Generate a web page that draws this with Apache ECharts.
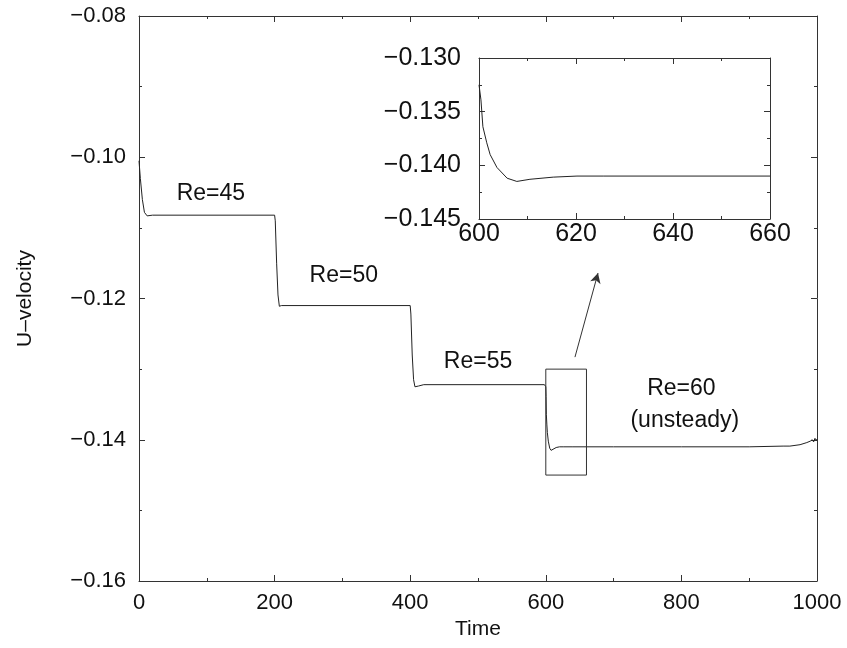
<!DOCTYPE html>
<html>
<head>
<meta charset="utf-8">
<script src="https://cdn.jsdelivr.net/npm/echarts@6/dist/echarts.min.js"></script>
<style>
  html, body { margin: 0; padding: 0; background: #fff; }
  #chart { width: 847px; height: 648px; }
</style>
</head>
<body>
<div id="chart"></div>
<script>
// Time history of the U-velocity while Re is stepped 45 -> 50 -> 55 -> 60
const timeMain = [0, 2, 5, 8, 12, 20, 200, 201, 203, 205, 207, 210, 400, 401, 403, 405, 407, 412, 420, 598,
  600, 600.4, 600.8, 601.6, 602.3, 603.7, 605.8, 607.8, 610.5, 615.3, 620.2, 625.6, 640, 660,
  700, 800, 900, 950, 960, 975, 985, 990, 993, 995, 997, 999, 1000];
const uMain = [-0.1005, -0.1030, -0.1060, -0.1078, -0.1083, -0.1082, -0.1082, -0.1090, -0.1150, -0.1195, -0.1211, -0.1210, -0.1210, -0.1222, -0.1280, -0.1315, -0.1325, -0.1324, -0.1322, -0.1322,
  -0.1325, -0.1339, -0.1364, -0.1379, -0.1390, -0.1402, -0.1412, -0.1415, -0.1413, -0.1411, -0.1410, -0.1410, -0.1410, -0.1410,
  -0.1410, -0.1410, -0.1410, -0.1409, -0.1409, -0.1407, -0.1404, -0.1402, -0.1400, -0.1403, -0.1398, -0.1401, -0.1399];

// Zoomed window after the switch to Re=60
const insetTime = [600, 600.4, 600.8, 601.6, 602.3, 603.7, 605.8, 607.8, 610.5, 615.3, 620.2, 625.6, 640, 660];
const insetU = [-0.1325, -0.1339, -0.1364, -0.1379, -0.1390, -0.1402, -0.1412, -0.1415, -0.1413, -0.1411, -0.1410, -0.1410, -0.1410, -0.1410];

// Outline of the zoomed window on the main plot
const boxTime = [600, 660, 660, 600, 600];
const boxU = [-0.130, -0.130, -0.145, -0.145, -0.130];

// Arrow from the window to the inset
const arrowTime = [643, 677];
const arrowU = [-0.1283, -0.1164];

// Reynolds number annotations
const noteText = ['Re=45', 'Re=50', 'Re=55', 'Re=60', '(unsteady)'];
const noteTime = [106, 302, 500, 800, 805];
const noteU = [-0.1052, -0.1168, -0.1290, -0.1327, -0.1373];

const FONT = 'Liberation Sans, Arial, Helvetica, sans-serif';
const INK = '#222';
const minus = s => s.replace('-', '\u2212');

function axisStyle(extra) {
  return Object.assign({
    type: 'value',
    axisLine: { show: true, onZero: false, lineStyle: { color: '#333', width: 1 } },
    axisTick: { show: true, inside: true, length: 6, lineStyle: { color: '#333', width: 1 } },
    minorTick: { show: true, splitNumber: 2, length: 3, lineStyle: { color: '#333', width: 1 } },
    splitLine: { show: false },
    minorSplitLine: { show: false },
    axisLabel: { show: false }
  }, extra);
}

const zip = (a, b) => a.map((v, i) => [v, b[i]]);

const chart = echarts.init(document.getElementById('chart'), null, { renderer: 'canvas' });

chart.setOption({
  animation: false,
  backgroundColor: '#fff',
  textStyle: { fontFamily: FONT },
  grid: [
    { left: 139, top: 16, width: 678, height: 565, containLabel: false },
    { left: 479, top: 58, width: 291, height: 161, containLabel: false }
  ],
  xAxis: [
    axisStyle({
      gridIndex: 0, position: 'bottom', min: 0, max: 1000, interval: 200,
      axisLabel: { show: true, fontSize: 22, color: '#111', fontFamily: FONT, margin: 11,
        formatter: v => String(v) },
      name: 'Time', nameLocation: 'middle', nameGap: 35,
      nameTextStyle: { fontSize: 21, color: '#111', fontFamily: FONT }
    }),
    axisStyle({ gridIndex: 0, position: 'top', min: 0, max: 1000, interval: 200 }),
    axisStyle({
      gridIndex: 1, position: 'bottom', min: 600, max: 660, interval: 20,
      axisLabel: { show: true, fontSize: 25, color: '#111', fontFamily: FONT, margin: 3,
        formatter: v => String(v) }
    }),
    axisStyle({ gridIndex: 1, position: 'top', min: 600, max: 660, interval: 20 })
  ],
  yAxis: [
    axisStyle({
      gridIndex: 0, position: 'left', min: -0.16, max: -0.08, interval: 0.02,
      axisLabel: { show: true, fontSize: 22, color: '#111', fontFamily: FONT, margin: 13,
        formatter: v => minus(v.toFixed(2)) },
      name: 'U\u2013velocity', nameLocation: 'middle', nameGap: 103,
      nameTextStyle: { fontSize: 21, color: '#111', fontFamily: FONT }
    }),
    axisStyle({ gridIndex: 0, position: 'right', min: -0.16, max: -0.08, interval: 0.02 }),
    axisStyle({
      gridIndex: 1, position: 'left', min: -0.145, max: -0.130, interval: 0.005,
      axisLabel: { show: true, fontSize: 25, color: '#111', fontFamily: FONT, margin: 18,
        formatter: v => minus(v.toFixed(3)) }
    }),
    axisStyle({ gridIndex: 1, position: 'right', min: -0.145, max: -0.130, interval: 0.005 })
  ],
  series: [
    {
      name: 'U-velocity', type: 'line', xAxisIndex: 0, yAxisIndex: 0,
      data: zip(timeMain, uMain), symbol: 'none', silent: true,
      lineStyle: { color: INK, width: 1 }
    },
    {
      name: 'window', type: 'line', xAxisIndex: 0, yAxisIndex: 0,
      data: zip(boxTime, boxU), symbol: 'none', silent: true,
      lineStyle: { color: '#333', width: 1 },
      markLine: {
        silent: true, symbol: ['none', 'arrow'], symbolSize: [8, 10],
        label: { show: false },
        lineStyle: { color: '#333', width: 1, type: 'solid' },
        data: [[
          { coord: [arrowTime[0], arrowU[0]] },
          { coord: [arrowTime[1], arrowU[1]] }
        ]]
      }
    },
    {
      name: 'notes', type: 'scatter', xAxisIndex: 0, yAxisIndex: 0,
      symbolSize: 0, silent: true,
      itemStyle: { opacity: 1 },
      data: noteText.map((t, i) => ({ value: [noteTime[i], noteU[i]], name: t })),
      label: {
        show: true, position: 'inside', formatter: p => p.name,
        fontSize: 23, color: '#111', opacity: 1, fontFamily: FONT
      }
    },
    {
      name: 'U-velocity (zoom)', type: 'line', xAxisIndex: 2, yAxisIndex: 2,
      data: zip(insetTime, insetU), symbol: 'none', silent: true,
      lineStyle: { color: INK, width: 1 }
    }
  ]
});
</script>
</body>
</html>
